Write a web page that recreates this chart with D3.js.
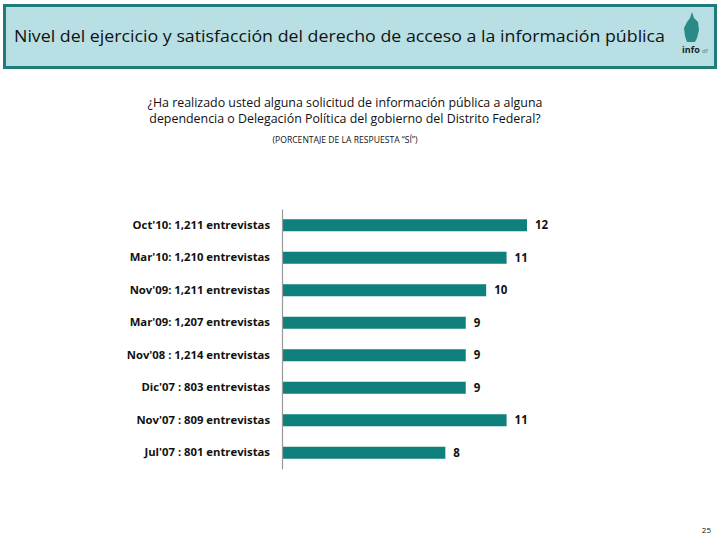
<!DOCTYPE html>
<html><head><meta charset="utf-8">
<script src="https://cdn.jsdelivr.net/npm/d3@7"></script>
<style>body{margin:0;background:#fff;}svg{display:block;}</style>
</head><body>
<script>
const categories = ["Oct'10: 1,211 entrevistas","Mar'10: 1,210 entrevistas","Nov'09: 1,211 entrevistas","Mar'09: 1,207 entrevistas","Nov'08 : 1,214 entrevistas","Dic'07 : 803 entrevistas","Nov'07 : 809 entrevistas","Jul'07 : 801 entrevistas"];
const values = [12, 11, 10, 9, 9, 9, 11, 8];
const title = "Nivel del ejercicio y satisfacción del derecho de acceso a la información pública";
const question = ["¿Ha realizado usted alguna solicitud de información pública a alguna","dependencia o Delegación Política del gobierno del Distrito Federal?"];
const note = "(PORCENTAJE DE LA RESPUESTA \u201CSÍ\u201D)";
const pageNum = "25";

const W = 720, H = 540;
const svg = d3.select("body").append("svg").attr("width", W).attr("height", H);
const font = "'Open Sans', 'DejaVu Sans', sans-serif";

// header
svg.append("rect").attr("x", 4.5).attr("y", 5.5).attr("width", 711).attr("height", 62)
  .attr("fill", "#b8dfe4").attr("stroke", "#1f7c79").attr("stroke-width", 3);
svg.append("text").attr("x", 14).attr("y", 42).attr("font-family", font)
  .attr("font-size", 17).attr("textLength", 651).attr("lengthAdjust", "spacingAndGlyphs")
  .attr("fill", "#111").text(title);
// logo
const logo = svg.append("g").attr("transform", "translate(682,12)");
logo.append("path").attr("d", "M10,0 L12,6 L16,10 L17,18 L15,26 L13,30 L5,30 L3,24 L2,16 L5,10 L8,6 Z")
  .attr("fill", "#2a8a86");
logo.append("text").attr("x", 0).attr("y", 41).attr("font-family", font).attr("font-weight", "bold")
  .attr("font-size", 9).attr("fill", "#222").text("info");
logo.append("text").attr("x", 20).attr("y", 41).attr("font-family", font)
  .attr("font-size", 6).attr("fill", "#2a8a86").text("df");

// question
svg.selectAll("text.q").data(question).join("text").attr("class", "q")
  .attr("x", 345).attr("y", (d, i) => 107 + i * 16).attr("text-anchor", "middle")
  .attr("font-family", font).attr("font-size", 12.4).attr("fill", "#111").text(d => d);
svg.append("text").attr("x", 345).attr("y", 143).attr("text-anchor", "middle")
  .attr("font-family", font).attr("font-size", 8.6).attr("fill", "#111").text(note);

// chart
const x = d3.scaleLinear().domain([0, 12]).range([282, 527]);
const y = d3.scaleBand().domain(categories).range([209, 469]).paddingInner(0.63).paddingOuter(0.315);

svg.selectAll("rect.bar").data(values).join("rect").attr("class", "bar")
  .attr("x", x(0)).attr("y", (d, i) => y(categories[i]))
  .attr("width", d => x(d) - x(0)).attr("height", y.bandwidth())
  .attr("fill", "#0f807b");

const yAxis = svg.append("g").attr("transform", `translate(${x(0)},0)`)
  .call(d3.axisLeft(y).tickSize(0).tickPadding(12));
yAxis.select(".domain").attr("stroke", "#999").attr("stroke-width", 1.2);
yAxis.selectAll("text").attr("font-family", font).attr("font-weight", "bold")
  .attr("font-size", 11.3).attr("fill", "#111");

svg.selectAll("text.val").data(values).join("text").attr("class", "val")
  .attr("x", d => x(d) + 8).attr("y", (d, i) => y(categories[i]) + y.bandwidth() / 2)
  .attr("dy", "0.35em").attr("font-family", font).attr("font-weight", "bold")
  .attr("font-size", 11.5).attr("fill", "#111").text(d => d);

svg.append("text").attr("x", 711).attr("y", 533).attr("text-anchor", "end")
  .attr("font-family", font).attr("font-size", 8).attr("fill", "#111").text(pageNum);
</script>
</body></html>
